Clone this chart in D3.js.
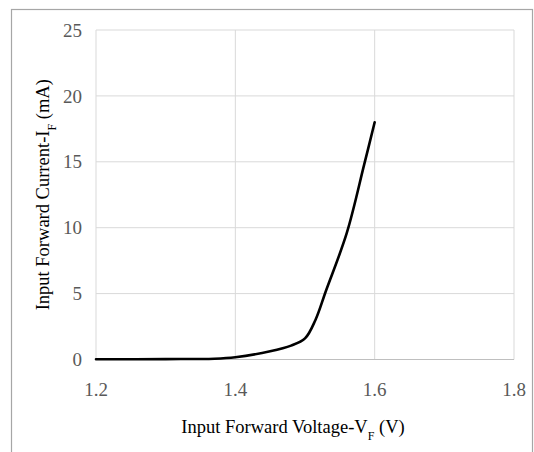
<!DOCTYPE html>
<html>
<head>
<meta charset="utf-8">
<script src="https://cdn.jsdelivr.net/npm/d3@7"></script>
<style>
  body { margin: 0; background: #fff; }
  text { font-family: "Liberation Serif", "DejaVu Serif", serif; }
</style>
</head>
<body>
<div id="chart"></div>
<script>
// данные
const voltage = [1.2, 1.3, 1.37, 1.4, 1.45, 1.48, 1.5, 1.515, 1.53, 1.56, 1.585, 1.6];
const current = [0.02, 0.03, 0.06, 0.17, 0.62, 1.05, 1.6, 3.0, 5.2, 9.6, 14.8, 18.0];
const xTicks = [1.2, 1.4, 1.6, 1.8];
const yTicks = [0, 5, 10, 15, 20, 25];

const W = 534, H = 452;
const margin = { top: 30, right: 20, bottom: 92, left: 96 },
      width = 514 - margin.left,
      height = 359.5 - margin.top;

const svg = d3.select("#chart")
  .append("svg")
  .attr("width", W)
  .attr("height", H);

// рамка области диаграммы
svg.append("rect")
  .attr("x", 11.5).attr("y", 9.5)
  .attr("width", 521).attr("height", 460)
  .attr("fill", "none")
  .attr("stroke", "#a6a6a6")
  .attr("stroke-width", 1.2);

const g = svg.append("g")
  .attr("transform", `translate(${margin.left},${margin.top})`);

const x = d3.scaleLinear().domain([1.2, 1.8]).range([0, width]);
const y = d3.scaleLinear().domain([0, 25]).range([height, 0]);

// сетка
g.append("g").selectAll("line").data(yTicks.filter(d => d > 0)).join("line")
  .attr("x1", 0).attr("x2", width)
  .attr("y1", d => y(d)).attr("y2", d => y(d))
  .attr("stroke", "#d9d9d9").attr("stroke-width", 1);

g.append("g").selectAll("line").data(xTicks).join("line")
  .attr("x1", d => x(d)).attr("x2", d => x(d))
  .attr("y1", 0).attr("y2", height)
  .attr("stroke", "#d9d9d9").attr("stroke-width", 1);

// ось X (нулевая линия)
g.append("line")
  .attr("x1", 0).attr("x2", width)
  .attr("y1", y(0)).attr("y2", y(0))
  .attr("stroke", "#bfbfbf").attr("stroke-width", 1.2);

// подписи делений
g.append("g").selectAll("text").data(yTicks).join("text")
  .attr("x", -14)
  .attr("y", d => y(d))
  .attr("dy", "0.35em")
  .attr("text-anchor", "end")
  .attr("fill", "#595959")
  .style("font-size", "19px")
  .text(d => d);

g.append("g").selectAll("text").data(xTicks).join("text")
  .attr("x", d => x(d))
  .attr("y", height + 30)
  .attr("dy", "0.35em")
  .attr("text-anchor", "middle")
  .attr("fill", "#595959")
  .style("font-size", "19px")
  .text(d3.format(".1f"));

// кривая
const line = d3.line()
  .x((d, i) => x(voltage[i]))
  .y(d => y(d))
  .curve(d3.curveCatmullRom.alpha(0.5));

g.append("path")
  .datum(current)
  .attr("d", line)
  .attr("fill", "none")
  .attr("stroke", "#000")
  .attr("stroke-width", 2.6)
  .attr("stroke-linecap", "round");

// подписи осей
const xt = svg.append("text")
  .attr("x", 293)
  .attr("y", 427)
  .attr("dy", "0.35em")
  .attr("text-anchor", "middle")
  .attr("fill", "#000")
  .style("font-size", "18.5px");
xt.append("tspan").text("Input Forward Voltage-V");
xt.append("tspan").attr("baseline-shift", "sub").style("font-size", "12px").text("F");
xt.append("tspan").text(" (V)");

const yt = svg.append("text")
  .attr("transform", `translate(43,${margin.top + height / 2}) rotate(-90)`)
  .attr("dy", "0.35em")
  .attr("text-anchor", "middle")
  .attr("fill", "#000")
  .style("font-size", "18.5px");
yt.append("tspan").text("Input Forward Current-I");
yt.append("tspan").attr("baseline-shift", "sub").style("font-size", "12px").text("F");
yt.append("tspan").text(" (mA)");
</script>
</body>
</html>
